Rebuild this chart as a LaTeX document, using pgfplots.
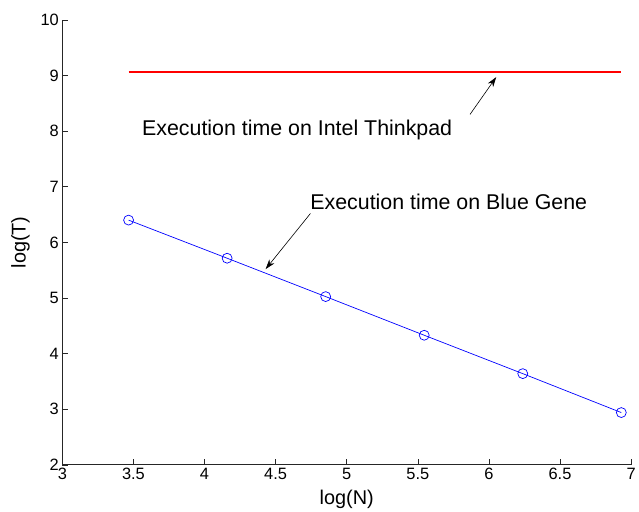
\documentclass[border=0pt]{standalone}
\usepackage{fontspec}
\setmainfont{Liberation Sans}
\usepackage{pgfplots}
\pgfplotsset{compat=1.18}
\usetikzlibrary{arrows.meta}
\definecolor{lred}{RGB}{255,0,0}
\definecolor{lblue}{RGB}{0,0,255}

\begin{document}
\begin{tikzpicture}
\begin{axis}[
  at={(0,0)}, anchor=south west,
  scale only axis,
  width=572.3pt, height=447.7pt,
  xmin=3, xmax=7, ymin=2, ymax=10,
  xtick={3,3.5,...,7}, ytick={2,3,...,10},
  axis x line*=bottom, axis y line*=left,
  axis line style={line width=0.8pt, black!85, -},
  tick align=inside, major tick length=5.5pt,
  tick style={line width=0.6pt, black!85},
  /pgf/number format/assume math mode=true,
  ticklabel style={font=\fontsize{16.5}{19}\selectfont},
  xlabel={log(N)}, ylabel={log(T)},
  label style={font=\fontsize{20}{23}\selectfont},
  xlabel style={yshift=-3pt},
  ylabel style={yshift=4pt},
  clip=false,
]
\addplot[color=lblue, line width=0.7pt, mark=o, mark size=5pt] coordinates {
  (3.466,6.40) (4.159,5.715) (4.852,5.025) (5.545,4.33) (6.238,3.64) (6.931,2.94)
};
\addplot[color=lred, line width=1.7pt, mark=none] coordinates {
  (3.466,9.066) (6.931,9.066)
};
\node[anchor=west, inner sep=0pt, font=\fontsize{21.5}{24}\selectfont] at (axis cs:3.56,8.02) {Execution time on Intel Thinkpad};
\node[anchor=west, inner sep=0pt, font=\fontsize{21.5}{24}\selectfont] at (axis cs:4.743,6.73) {Execution time on Blue Gene};
\draw[-{Stealth[length=10pt,width=6.5pt]}, line width=0.6pt] (axis cs:5.867,8.30) -- (axis cs:6.051,8.97);
\draw[-{Stealth[length=10pt,width=6.5pt]}, line width=0.6pt] (axis cs:4.745,6.52) -- (axis cs:4.430,5.52);
\end{axis}
\useasboundingbox (-62.7pt,-47.3pt) rectangle (576.3pt,467.7pt);
\end{tikzpicture}
\end{document}
